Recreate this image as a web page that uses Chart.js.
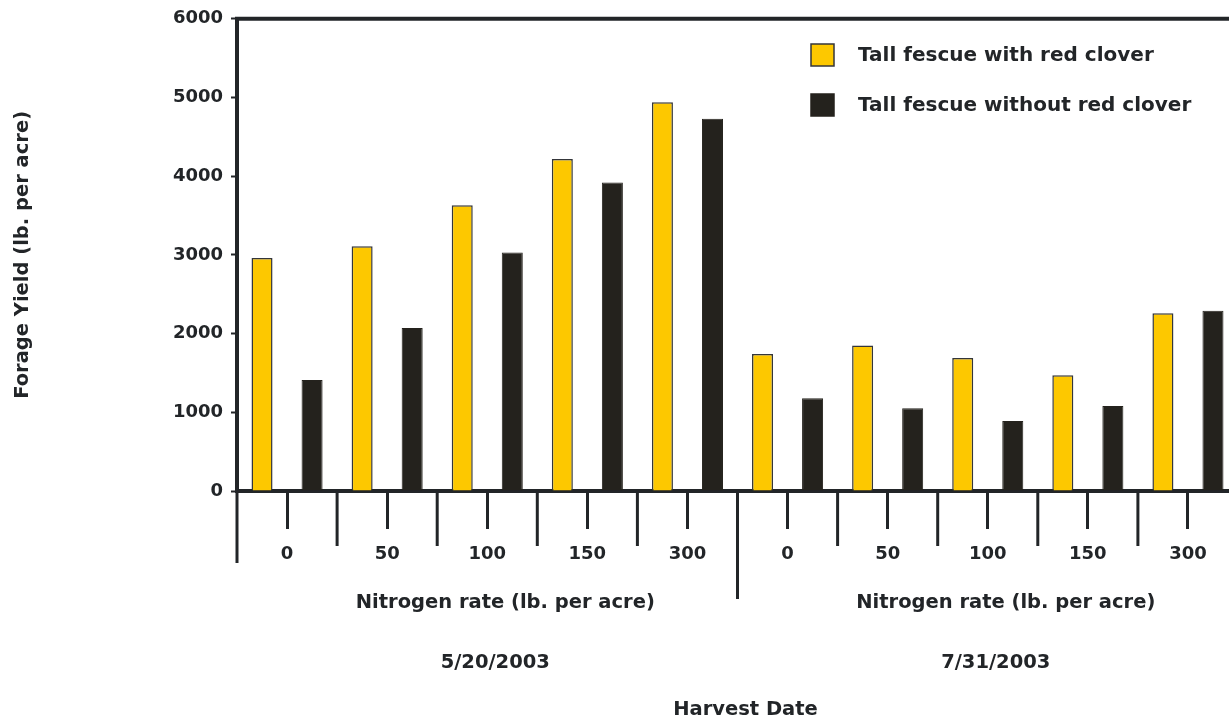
<!DOCTYPE html>
<html>
<head>
<meta charset="utf-8">
<title>Forage Yield by Nitrogen Rate</title>
<script src="https://cdn.jsdelivr.net/npm/chart.js@4/dist/chart.umd.min.js"></script>
<style>
  html, body { margin: 0; padding: 0; background: #ffffff; overflow: hidden; }
  #wrap { position: relative; width: 1240px; height: 721px; }
  canvas { display: block; }
</style>
</head>
<body>
<div id="wrap"><canvas id="chart" width="1240" height="721"></canvas></div>
<script>
// Nitrogen rates (lb. per acre), five per harvest date
const nitrogenRates = ['0', '50', '100', '150', '300', '0', '50', '100', '150', '300'];
const harvestDates = ['5/20/2003', '7/31/2003'];
const ratesPerHarvest = 5;

// Forage yield (lb. per acre)
const withRedClover = [2960, 3110, 3630, 4220, 4940, 1740, 1850, 1690, 1470, 2260];
const withoutRedClover = [1410, 2070, 3030, 3920, 4730, 1180, 1050, 890, 1080, 2290];

const yTicks = [0, 1000, 2000, 3000, 4000, 5000, 6000];

const INK = '#222528';
const FONT = '"DejaVu Sans", "Liberation Sans", Arial, sans-serif';

// Extra axis furniture: frame top, group boundary ticks, group labels, legend
const furniture = {
  id: 'furniture',
  afterDraw(chart) {
    const { ctx, chartArea } = chart;
    const x = chart.scales.x;
    const n = nitrogenRates.length;
    const step = x.getPixelForValue(1) - x.getPixelForValue(0);
    const base = chartArea.bottom;

    ctx.save();
    ctx.strokeStyle = INK;
    ctx.lineCap = 'butt';

    // top frame line
    ctx.lineWidth = 4;
    ctx.beginPath();
    ctx.moveTo(chartArea.left - 2, chartArea.top);
    ctx.lineTo(chartArea.right + 4, chartArea.top);
    ctx.stroke();

    // boundary ticks between nitrogen rates
    ctx.lineWidth = 3;
    for (let i = 0; i <= n; i++) {
      const px = x.getPixelForValue(i) - step / 2;
      let end = base + 55;
      if (i === 0) end = base + 72;
      else if (i % ratesPerHarvest === 0) end = base + 108;
      ctx.beginPath();
      ctx.moveTo(px, base);
      ctx.lineTo(px, end);
      ctx.stroke();
    }

    // group labels
    ctx.fillStyle = INK;
    ctx.textAlign = 'center';
    ctx.textBaseline = 'middle';
    ctx.font = 'bold 19.5px ' + FONT;
    harvestDates.forEach((d, g) => {
      const first = x.getPixelForValue(g * ratesPerHarvest) - step / 2;
      const last = x.getPixelForValue(g * ratesPerHarvest + ratesPerHarvest - 1) + step / 2;
      const c = (first + last) / 2;
      ctx.fillText('Nitrogen rate (lb. per acre)', c + 18, base + 112);
      ctx.fillText(d, c + 8, base + 172);
    });
    ctx.fillText('Harvest Date', (chartArea.left + chartArea.right) / 2 + 8, base + 219);

    // legend
    ctx.textAlign = 'left';
    ctx.font = 'bold 20px ' + FONT;
    chart.data.datasets.forEach((ds, i) => {
      const y0 = 44 + i * 50;
      ctx.fillStyle = ds.backgroundColor;
      ctx.fillRect(811, y0, 23, 22);
      ctx.lineWidth = 1.5;
      ctx.strokeStyle = ds.borderColor;
      ctx.strokeRect(811, y0, 23, 22);
      ctx.fillStyle = INK;
      ctx.fillText(ds.label, 858, y0 + 12);
    });
    ctx.restore();
  }
};

new Chart(document.getElementById('chart'), {
  type: 'bar',
  data: {
    labels: nitrogenRates,
    datasets: [
      {
        label: 'Tall fescue with red clover',
        data: withRedClover,
        backgroundColor: '#fdc800',
        borderColor: '#34363a',
        borderWidth: 1.5,
        borderSkipped: 'bottom'
      },
      {
        label: 'Tall fescue without red clover',
        data: withoutRedClover,
        backgroundColor: '#24221d',
        borderColor: '#24221d',
        borderWidth: 1,
        borderSkipped: 'bottom'
      }
    ]
  },
  options: {
    responsive: false,
    animation: false,
    devicePixelRatio: 1,
    layout: { padding: { top: 17, right: 2, left: 0, bottom: 0 } },
    plugins: {
      legend: { display: false },
      tooltip: { enabled: false }
    },
    datasets: {
      bar: { categoryPercentage: 1.0, barPercentage: 0.42 }
    },
    scales: {
      x: {
        offset: true,
        grid: {
          offset: false,
          drawOnChartArea: false,
          drawTicks: true,
          tickLength: 38,
          tickWidth: 3,
          tickColor: INK
        },
        border: { display: true, color: INK, width: 4 },
        ticks: {
          color: INK,
          font: { family: FONT, size: 18, weight: 'bold' },
          padding: 15,
          maxRotation: 0,
          autoSkip: false
        },
        afterFit(scale) { scale.height = 230; }
      },
      y: {
        min: 0,
        max: 6000,
        afterBuildTicks(scale) { scale.ticks = yTicks.map(v => ({ value: v })); },
        grid: {
          drawOnChartArea: false,
          drawTicks: true,
          tickLength: 6,
          tickWidth: 2,
          tickColor: INK
        },
        border: { display: true, color: INK, width: 4 },
        ticks: {
          color: INK,
          font: { family: FONT, size: 18, weight: 'bold' },
          padding: 8,
          callback: v => String(v)
        },
        title: {
          display: true,
          text: 'Forage Yield (lb. per acre)',
          color: INK,
          font: { family: FONT, size: 19.5, weight: 'bold' },
          padding: { top: 11, bottom: 0 }
        },
        afterFit(scale) { scale.width = 237; }
      }
    }
  },
  plugins: [furniture]
});
</script>
</body>
</html>
